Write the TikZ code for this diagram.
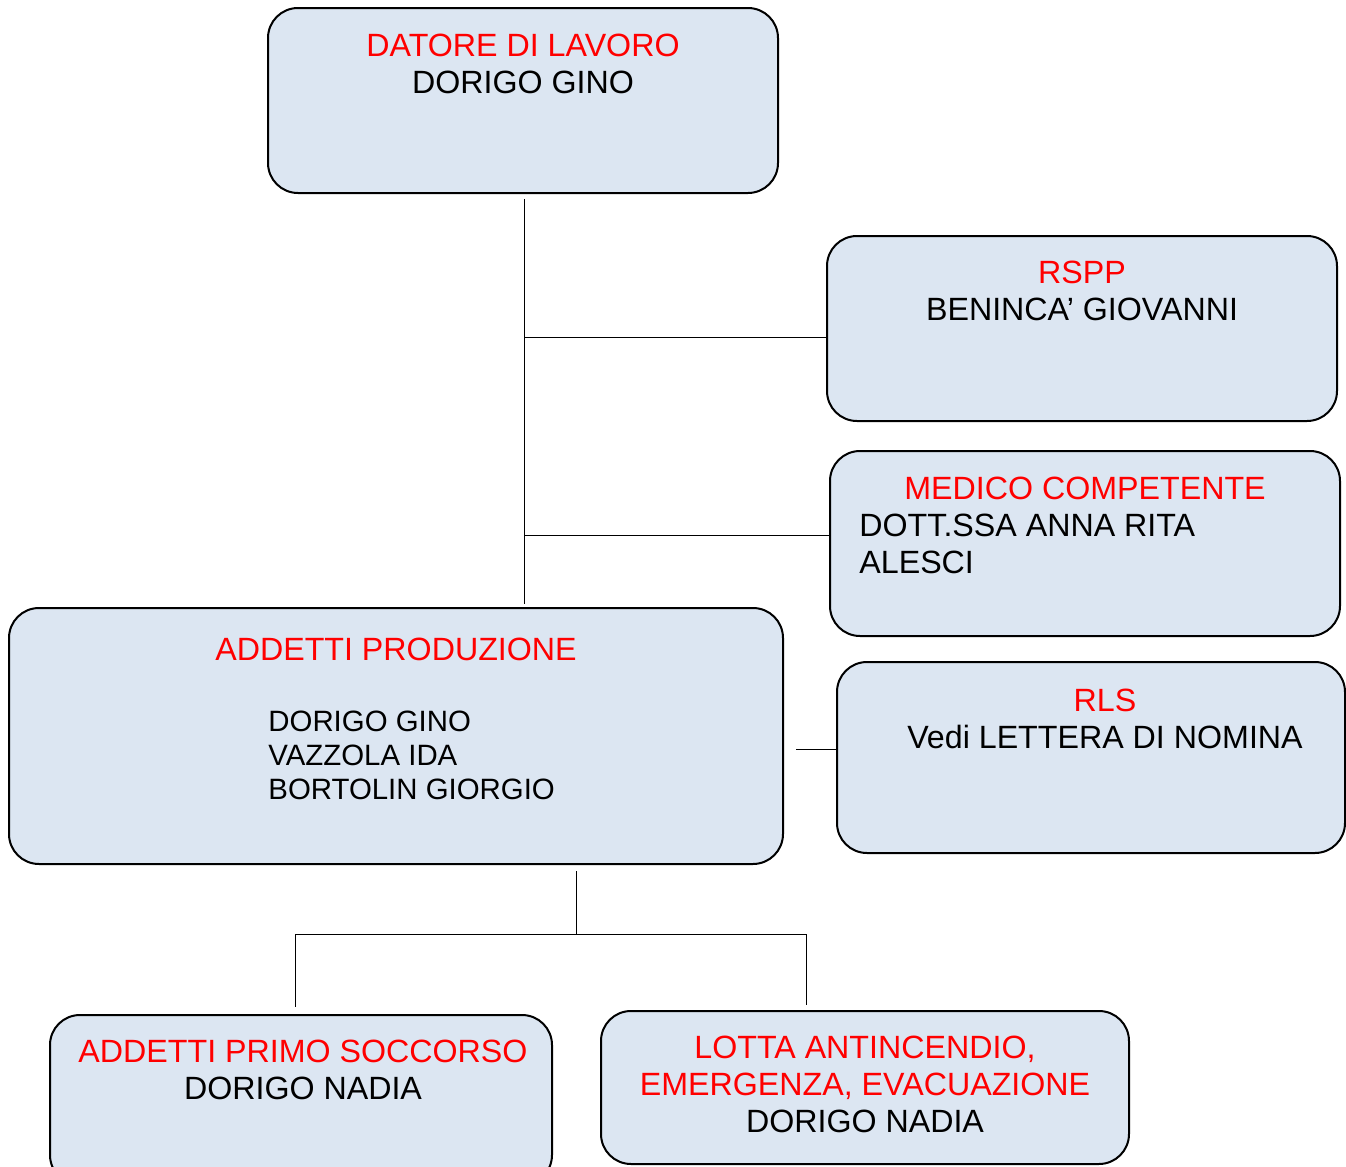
\documentclass[tikz,border=0pt]{standalone}
\usepackage{fontspec}
\setmainfont{Liberation Sans}
\tikzset{
  box/.style={draw, line width=1pt, rounded corners=15pt, fill=boxblue},
  headtxt/.style={anchor=base, text=red, inner sep=0pt},
  bodytxt/.style={anchor=base, inner sep=0pt},
  smalltxt/.style={anchor=base west, inner sep=0pt, font=\fontsize{14.7}{17}\selectfont},
  link/.style={draw, line width=0.5pt}
}
\definecolor{boxblue}{HTML}{DCE6F2}
\begin{document}
\begin{tikzpicture}[x=0.5pt, y=-0.5pt, font=\fontsize{16.1}{19}\selectfont, line join=round]
	\useasboundingbox (0,0) rectangle (1346,1167);
	\clip (0,0) rectangle (1346,1167);
	% boxes
	\node[box, minimum width=255pt, minimum height=92.5pt] (datore) at (523,100.5) {};
	\node[box, minimum width=255pt, minimum height=92.5pt] (rspp) at (1082,328.5) {};
	\node[box, minimum width=255pt, minimum height=92.5pt] (medico) at (1085,543.5) {};
	\node[box, minimum width=387pt, minimum height=128pt] (prod) at (396,736) {};
	\node[box, minimum width=254pt, minimum height=95.5pt] (rls) at (1091,757.5) {};
	\node[box, minimum width=251pt, minimum height=85pt] (primo) at (301,1100) {};
	\node[box, minimum width=264pt, minimum height=76.5pt] (lotta) at (865,1087.5) {};
	% texts
	\node[headtxt] (datoreT) at (523,56) {DATORE DI LAVORO};
	\node[bodytxt] (datoreN) at (523,93) {DORIGO GINO};
	\node[headtxt] (rsppT) at (1082,283) {RSPP};
	\node[bodytxt] (rsppN) at (1082,320) {BENINCA’ GIOVANNI};
	\node[headtxt] (medicoT) at (1085,499) {MEDICO COMPETENTE};
	\node[bodytxt, anchor=base west] (medicoN1) at (859,536) {DOTT.SSA ANNA RITA};
	\node[bodytxt, anchor=base west] (medicoN2) at (859,573) {ALESCI};
	\node[headtxt] (prodT) at (396,660) {ADDETTI PRODUZIONE};
	\node[smalltxt] (prodN1) at (268,731) {DORIGO GINO};
	\node[smalltxt] (prodN2) at (268,765) {VAZZOLA IDA};
	\node[smalltxt] (prodN3) at (268,799) {BORTOLIN GIORGIO};
	\node[headtxt] (rlsT) at (1105,711) {RLS};
	\node[bodytxt] (rlsN) at (1105,748) {Vedi LETTERA DI NOMINA};
	\node[headtxt] (primoT) at (303,1062) {ADDETTI PRIMO SOCCORSO};
	\node[bodytxt] (primoN) at (303,1099) {DORIGO NADIA};
	\node[headtxt] (lottaT1) at (865,1058) {LOTTA ANTINCENDIO,};
	\node[headtxt] (lottaT2) at (865,1095) {EMERGENZA, EVACUAZIONE};
	\node[bodytxt] (lottaN) at (865,1132) {DORIGO NADIA};
	% connectors
	\coordinate (top) at (524,199);
	\coordinate (bot) at (524,604);
	\coordinate (j1) at (524,337);
	\coordinate (j2) at (524,535);
	\coordinate (r0) at (796,749);
	\coordinate (d0) at (576,871);
	\coordinate (d1) at (576,934);
	\coordinate (dl) at (295,934);
	\coordinate (dr) at (806,934);
	\coordinate (el) at (295,1007);
	\coordinate (er) at (806,1005);
	\path[link] (top) -- (bot);
	\path[link] (j1) -- (j1 -| rspp.west);
	\path[link] (j2) -- (j2 -| medico.west);
	\path[link] (r0) -- (r0 -| rls.west);
	\path[link] (d0) -- (d1);
	\path[link] (dl) -- (dr);
	\path[link] (dl) -- (el);
	\path[link] (dr) -- (er);
\end{tikzpicture}
\end{document}
